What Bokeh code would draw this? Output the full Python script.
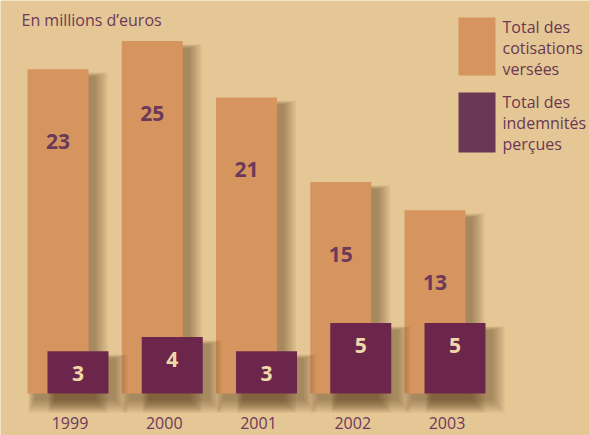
from bokeh.plotting import figure
from bokeh.models import Range1d, Label, BoxAnnotation
from bokeh.core.properties import value
from bokeh.embed import file_html
from bokeh.resources import INLINE

years = ["1999", "2000", "2001", "2002", "2003"]
cotisations = [23, 25, 21, 15, 13]
indemnites = [3, 4, 3, 5, 5]

BG = "#E5C795"
ORANGE = "#D6955E"
PURPLE = "#6C264B"
LEG_PURPLE = "#6A3754"
TXT = "#6B3A5A"
LIGHT = "#F0D9A8"
FONT = "Open Sans"

W, H = 589, 435
PX_X = 94.25   # pixels per category
PX_Y = 14.1    # pixels per million
x0 = -57.5 / PX_X
y0 = (393 - 435) / PX_Y

p = figure(width=W, height=H, output_backend="svg", toolbar_location=None,
           x_range=Range1d(x0, x0 + W / PX_X), y_range=Range1d(y0, y0 + H / PX_Y),
           min_border=0, background_fill_color=BG, border_fill_color=BG,
           outline_line_color=None)
p.xaxis.visible = False
p.yaxis.visible = False
p.xgrid.visible = False
p.ygrid.visible = False

def px2x(px):
    return x0 + px / PX_X

def py2y(py):
    return y0 + (H - py) / PX_Y

idx = list(range(len(years)))
bw = 61 / PX_X
off = 20 / PX_X

def shadow(lefts, rights, tops):
    dx = 7 / PX_X
    dy = 7 / PX_Y
    for s in range(0, 14, 2):
        sx = s / PX_X
        sy = s / PX_Y
        p.quad(left=[l + dx - sx * 0.5 for l in lefts], right=[r + dx + sx for r in rights],
               top=[t - dy + sy * 0.3 for t in tops], bottom=[-dy - sy for _ in tops],
               fill_color="#4A2A12", fill_alpha=0.065, line_color=None)

o_left = [i - bw / 2 for i in idx]
o_right = [i + bw / 2 for i in idx]
p_left = [i + off - bw / 2 for i in idx]
p_right = [i + off + bw / 2 for i in idx]

shadow(o_left, o_right, cotisations)
p.quad(left=o_left, right=o_right, top=cotisations, bottom=0,
       fill_color=ORANGE, line_color=None)
shadow(p_left, p_right, indemnites)
p.quad(left=p_left, right=p_right, top=indemnites, bottom=0,
       fill_color=PURPLE, line_color=None)

# value labels
p.text(x=idx, y=[v - 72 / PX_Y for v in cotisations], text=[str(v) for v in cotisations],
       text_font=value(FONT), text_font_style="bold", text_font_size="21px",
       text_color=TXT, text_align="center", text_baseline="middle")
p.text(x=[i + off for i in idx], y=[v - 22 / PX_Y for v in indemnites],
       text=[str(v) for v in indemnites],
       text_font=value(FONT), text_font_style="bold", text_font_size="21px",
       text_color=LIGHT, text_align="center", text_baseline="middle")

# year labels
p.text(x=[i + 12 / PX_X for i in idx], y=[py2y(422)] * len(idx), text=years,
       text_font=value(FONT), text_font_size="16px", text_color=TXT,
       text_align="center", text_baseline="middle")

# unit label
p.add_layout(Label(x=px2x(21), y=py2y(19), text="En millions d\u2019euros",
                   text_font=FONT, text_font_size="16px", text_color=TXT,
                   text_baseline="middle", text_align="left"))

# legend
for (top, bot, col) in [(17, 75, ORANGE), (92, 152, LEG_PURPLE)]:
    p.add_layout(BoxAnnotation(left=px2x(458), right=px2x(495), top=py2y(top), bottom=py2y(bot),
                               fill_color=col, fill_alpha=1.0, line_color=None, level="overlay"))
leg_lines = [("Total des", 26), ("cotisations", 47), ("versées", 68),
             ("Total des", 101), ("indemnités", 122), ("perçues", 143)]
for t, y in leg_lines:
    p.add_layout(Label(x=px2x(502), y=py2y(y), text=t, text_font=FONT,
                       text_font_size="16px", text_color=LEG_PURPLE,
                       text_baseline="middle", text_align="left"))

open("out.html", "w").write(file_html(p, INLINE))
